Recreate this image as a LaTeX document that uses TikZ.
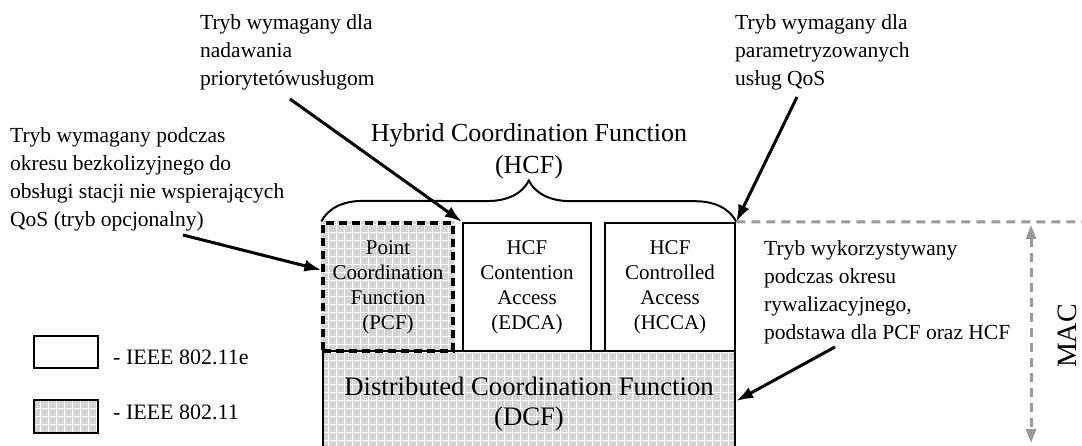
\documentclass[tikz,border=0pt]{standalone}
\usepackage{fontspec}
\setmainfont{Liberation Serif}
\usetikzlibrary{arrows.meta,decorations.pathreplacing,backgrounds}
\def\lw{2.5pt}
\tikzset{
  box/.style={draw, line width=\lw, inner sep=0pt, align=center,
    minimum width=129pt, minimum height=128pt, font=\fontsize{21}{25}\selectfont},
  note/.style={inner sep=0pt, align=left, font=\fontsize{21.5}{28}\selectfont},
  pointer/.style={line width=3pt, -{Latex[length=17pt,width=12pt]}},
  macline/.style={black!40, line width=3pt, dash pattern=on 9pt off 6pt},
  hatchbg/.style={fill=black!17},
  hatchline/.style={white, line width=0.6pt, step=8pt}
}
\newcommand\hatch[1]{%
  \begin{pgfonlayer}{background}
    \begin{scope}
      \clip (#1.north west) rectangle (#1.south east);
      \fill[hatchbg] (#1.north west) rectangle (#1.south east);
      \draw[hatchline] (#1.north west) grid (#1.south east);
    \end{scope}
  \end{pgfonlayer}}

\begin{document}
\begin{tikzpicture}[x=1pt,y=-1pt]
\useasboundingbox (0,0) rectangle (1082,446);
\clip (0,0) rectangle (1082,446);

% functions
\node[box, line width=3.2pt, dash pattern=on 8pt off 5pt, minimum width=130pt] (pcf) at (388,287) {Point\\Coordination\\Function\\(PCF)};
\node[box, minimum width=128pt] (edca) at (527,287) {HCF\\Contention\\Access\\(EDCA)};
\node[box, minimum width=130pt] (hcca) at (670,287) {HCF\\Controlled\\Access\\(HCCA)};
\node[box, minimum width=412pt, minimum height=106pt, font=\fontsize{26.7}{30}\selectfont] (dcf) at (529,404) {Distributed Coordination Function\\(DCF)};

\draw[decorate, decoration={brace, amplitude=41pt}, line width=2pt] (pcf.north west) -- (hcca.north east);
\node[align=center, inner sep=0pt, font=\fontsize{26}{32}\selectfont] (hcf) at (529,151) {Hybrid Coordination Function\\(HCF)};

% legend
\node[draw, line width=2pt, minimum width=64pt, minimum height=32pt, inner sep=0pt] (leg1) at (66,352) {};
\node[draw, line width=2pt, minimum width=64pt, minimum height=33pt, inner sep=0pt] (leg2) at (66,416) {};
\node[note, anchor=base west, font=\fontsize{22}{28}\selectfont] (leg1txt) at (113,365) {- IEEE 802.11e};
\node[note, anchor=base west, font=\fontsize{22}{28}\selectfont] (leg2txt) at (113,419) {- IEEE 802.11};

\foreach \n in {pcf,dcf,leg2}{
  \hatch{\n}
}

% notes
\node[note, anchor=north west] (pcfnote) at (10,127) {Tryb wymagany podczas\\okresu bezkolizyjnego do\\obsługi stacji nie wspierających\\QoS (tryb opcjonalny)};
\node[note, anchor=north west] (edcanote) at (200,14) {Tryb wymagany dla\\nadawania\\priorytetówusługom};
\node[note, anchor=north west] (hccanote) at (735,14) {Tryb wymagany dla\\parametryzowanych\\usług QoS};
\node[note, anchor=north west] (dcfnote) at (764,240) {Tryb wykorzystywany\\podczas okresu\\rywalizacyjnego,\\podstawa dla PCF oraz HCF};

\coordinate (t1) at (183,235);
\coordinate (t2) at (290,99);
\coordinate (t3) at (797,97);
\coordinate (t4) at (835,347);
\coordinate (h1) at ([yshift=17pt]pcf.west);
\coordinate (h4) at ([yshift=3pt]dcf.east);

\draw[pointer] (t1) -- (h1);
\draw[pointer] (t2) -- (edca.north west);
\draw[pointer] (t3) -- (hcca.north east);
\draw[pointer] (t4) -- (h4);

% MAC layer
\coordinate (macend) at (1082,222);
\coordinate (mactop) at (1031,225);
\coordinate (macbot) at (1031,443);
\draw[macline] (hcca.north east) -- (macend);
\draw[macline, {Triangle[length=14pt,width=10pt]}-{Triangle[length=14pt,width=10pt]}] (mactop) -- (macbot);
\node[rotate=90, inner sep=0pt, font=\fontsize{28}{28}\selectfont] (mac) at (1067,336) {MAC};
\end{tikzpicture}
\end{document}
